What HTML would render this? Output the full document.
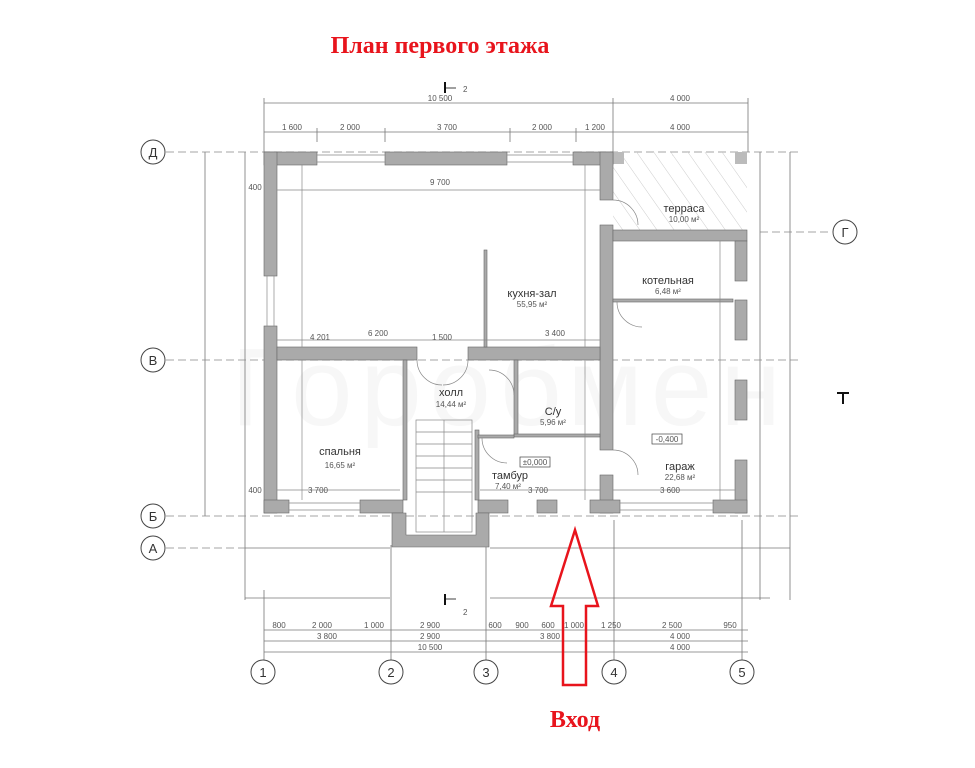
<!DOCTYPE html>
<html><head><meta charset="utf-8"><style>
html,body{margin:0;padding:0;background:#fff;}
svg{display:block}
.d{font-family:"Liberation Sans",sans-serif;font-size:8px;fill:#555}
.r{font-family:"Liberation Sans",sans-serif;font-size:11px;fill:#333}
.s{font-family:"Liberation Sans",sans-serif;font-size:8px;fill:#555}
</style></head><body>
<svg width="975" height="768" viewBox="0 0 975 768" xmlns="http://www.w3.org/2000/svg">
<defs><pattern id="h" width="14" height="14" patternUnits="userSpaceOnUse" patternTransform="rotate(-35)"><line x1="0" y1="0" x2="0" y2="14" stroke="#ccc" stroke-width="1"/></pattern></defs>
<text x="440" y="53" text-anchor="middle" font-family="Liberation Serif,serif" font-weight="bold" font-size="24" fill="#e8141c">План первого этажа</text>
<text x="575" y="727" text-anchor="middle" font-family="Liberation Serif,serif" font-weight="bold" font-size="24" fill="#e8141c">Вход</text>

<text x="510" y="425" text-anchor="middle" font-family="Liberation Sans,sans-serif" font-size="110" fill="#f7f7f7" letter-spacing="8">Горобмен</text>

<g stroke="#777" stroke-width="0.8" fill="none">
<line x1="264" y1="103" x2="748" y2="103"/><line x1="264" y1="132" x2="748" y2="132"/>
<line x1="264" y1="98" x2="264" y2="152"/><line x1="613" y1="98" x2="613" y2="152"/><line x1="748" y1="98" x2="748" y2="152"/>
<line x1="317" y1="128" x2="317" y2="142"/><line x1="385" y1="128" x2="385" y2="142"/><line x1="510" y1="128" x2="510" y2="142"/><line x1="576" y1="128" x2="576" y2="142"/>
<line x1="264" y1="630" x2="748" y2="630"/><line x1="264" y1="641" x2="748" y2="641"/><line x1="264" y1="652" x2="748" y2="652"/>
<line x1="205" y1="152" x2="205" y2="516"/><line x1="245" y1="152" x2="245" y2="600"/>
<line x1="760" y1="152" x2="760" y2="600"/><line x1="790" y1="152" x2="790" y2="600"/>
<line x1="264" y1="590" x2="264" y2="660"/><line x1="391" y1="545" x2="391" y2="660"/><line x1="486" y1="545" x2="486" y2="660"/><line x1="614" y1="520" x2="614" y2="660"/><line x1="742" y1="520" x2="742" y2="660"/>
<line x1="245" y1="598" x2="390" y2="598"/><line x1="490" y1="598" x2="770" y2="598"/>
<line x1="245" y1="548" x2="390" y2="548"/><line x1="490" y1="548" x2="790" y2="548"/>
</g>
<g stroke="#888" stroke-width="0.8" stroke-dasharray="8,4" fill="none">
<line x1="166" y1="152" x2="800" y2="152"/><line x1="166" y1="360" x2="800" y2="360"/><line x1="166" y1="516" x2="800" y2="516"/><line x1="166" y1="548" x2="245" y2="548"/><line x1="760" y1="232" x2="832" y2="232"/>
</g>
<g class="d" text-anchor="middle">
<text x="440" y="101">10 500</text><text x="680" y="101">4 000</text>
<text x="292" y="130">1 600</text><text x="350" y="130">2 000</text><text x="447" y="130">3 700</text><text x="542" y="130">2 000</text><text x="595" y="130">1 200</text><text x="680" y="130">4 000</text>
<text x="279" y="628">800</text><text x="322" y="628">2 000</text><text x="374" y="628">1 000</text><text x="430" y="628">2 900</text><text x="495" y="628">600</text><text x="522" y="628">900</text><text x="548" y="628">600</text><text x="574" y="628">1 000</text><text x="611" y="628">1 250</text><text x="672" y="628">2 500</text><text x="730" y="628">950</text>
<text x="327" y="639">3 800</text><text x="430" y="639">2 900</text><text x="550" y="639">3 800</text><text x="680" y="639">4 000</text>
<text x="430" y="650">10 500</text><text x="680" y="650">4 000</text>
</g>
<g stroke="#444" fill="#fff" stroke-width="1">
<circle cx="153" cy="152" r="12"/><circle cx="153" cy="360" r="12"/><circle cx="153" cy="516" r="12"/><circle cx="153" cy="548" r="12"/><circle cx="845" cy="232" r="12"/>
<circle cx="263" cy="672" r="12"/><circle cx="391" cy="672" r="12"/><circle cx="486" cy="672" r="12"/><circle cx="614" cy="672" r="12"/><circle cx="742" cy="672" r="12"/>
</g>
<g font-family="Liberation Sans,sans-serif" font-size="13" fill="#333" text-anchor="middle">
<text x="153" y="157">Д</text><text x="153" y="365">В</text><text x="153" y="521">Б</text><text x="153" y="553">А</text><text x="845" y="237">Г</text>
<text x="263" y="677">1</text><text x="391" y="677">2</text><text x="486" y="677">3</text><text x="614" y="677">4</text><text x="742" y="677">5</text>
</g>

<rect x="613" y="152" width="134" height="80" fill="url(#h)"/>
<rect x="612" y="152" width="12" height="12" fill="#bbb"/><rect x="735" y="152" width="12" height="12" fill="#bbb"/>

<g fill="#aaa" stroke="#666" stroke-width="0.6">
<rect x="264" y="152" width="53" height="13"/><rect x="385" y="152" width="122" height="13"/><rect x="573" y="152" width="40" height="13"/>
<rect x="264" y="152" width="13" height="124"/><rect x="264" y="326" width="13" height="187"/>
<rect x="600" y="152" width="13" height="48"/><rect x="600" y="225" width="13" height="225"/><rect x="600" y="475" width="13" height="38"/>
<rect x="277" y="347" width="140" height="13"/><rect x="468" y="347" width="132" height="13"/>
<rect x="613" y="230" width="134" height="11"/>
<rect x="735" y="241" width="12" height="40"/><rect x="735" y="300" width="12" height="40"/><rect x="735" y="380" width="12" height="40"/><rect x="735" y="460" width="12" height="53"/>
<rect x="264" y="500" width="25" height="13"/><rect x="360" y="500" width="43" height="13"/><rect x="478" y="500" width="30" height="13"/><rect x="537" y="500" width="20" height="13"/><rect x="590" y="500" width="30" height="13"/><rect x="713" y="500" width="34" height="13"/>
<path d="M392 513 H406 V535 H476 V513 H489 V547 H392 Z"/>
<rect x="403" y="360" width="4" height="140"/><rect x="475" y="430" width="4" height="70"/>
<rect x="514" y="360" width="4" height="76"/><rect x="514" y="434" width="86" height="3"/><rect x="478" y="435" width="36" height="3"/>
<rect x="613" y="299" width="120" height="3"/><rect x="484" y="250" width="3" height="97"/>
</g>
<g stroke="#888" stroke-width="0.7" fill="none">
<line x1="317" y1="155" x2="385" y2="155"/><line x1="317" y1="162" x2="385" y2="162"/>
<line x1="507" y1="155" x2="573" y2="155"/><line x1="507" y1="162" x2="573" y2="162"/>
<line x1="267" y1="276" x2="267" y2="326"/><line x1="274" y1="276" x2="274" y2="326"/>
<line x1="289" y1="503" x2="360" y2="503"/><line x1="289" y1="510" x2="360" y2="510"/>
<line x1="620" y1="503" x2="713" y2="503"/><line x1="620" y1="510" x2="713" y2="510"/>
<line x1="277" y1="190" x2="600" y2="190"/><line x1="277" y1="340" x2="600" y2="340"/><line x1="277" y1="490" x2="400" y2="490"/><line x1="480" y1="490" x2="600" y2="490"/><line x1="613" y1="490" x2="735" y2="490"/>
<line x1="302" y1="165" x2="302" y2="347"/><line x1="585" y1="165" x2="585" y2="347"/><line x1="302" y1="360" x2="302" y2="500"/><line x1="585" y1="360" x2="585" y2="500"/><line x1="720" y1="241" x2="720" y2="500"/>
<path d="M613 200 A25 25 0 0 1 638 225"/><path d="M613 450 A25 25 0 0 1 638 475"/><path d="M617 302 A25 25 0 0 0 642 327"/>
<path d="M417 360 A25 25 0 0 0 442 385"/><path d="M468 360 A25 25 0 0 1 443 385"/><path d="M514 395 A25 25 0 0 0 489 370"/><path d="M482 438 A25 25 0 0 0 507 463"/>
<rect x="416" y="420" width="56" height="112"/><line x1="444" y1="420" x2="444" y2="532"/>
<line x1="416" y1="432" x2="472" y2="432"/><line x1="416" y1="444" x2="472" y2="444"/><line x1="416" y1="456" x2="472" y2="456"/><line x1="416" y1="468" x2="472" y2="468"/><line x1="416" y1="480" x2="472" y2="480"/><line x1="416" y1="492" x2="472" y2="492"/>
</g>
<g text-anchor="middle">
<text class="r" x="532" y="297">кухня-зал</text><text class="s" x="532" y="307">55,95 м²</text>
<text class="r" x="668" y="284">котельная</text><text class="s" x="668" y="294">6,48 м²</text>
<text class="r" x="684" y="212">терраса</text><text class="s" x="684" y="222">10,00 м²</text>
<text class="r" x="340" y="455">спальня</text><text class="s" x="340" y="468">16,65 м²</text>
<text class="r" x="451" y="396">холл</text><text class="s" x="451" y="407">14,44 м²</text>
<text class="r" x="553" y="415">С/у</text><text class="s" x="553" y="425">5,96 м²</text>
<text class="r" x="510" y="479">тамбур</text><text class="s" x="508" y="489">7,40 м²</text>
<text class="r" x="680" y="470">гараж</text><text class="s" x="680" y="480">22,68 м²</text>
</g>
<rect x="520" y="457" width="30" height="10" fill="none" stroke="#444" stroke-width="0.7"/><text class="s" x="535" y="465" text-anchor="middle">±0,000</text>
<rect x="652" y="434" width="30" height="10" fill="none" stroke="#444" stroke-width="0.7"/><text class="s" x="667" y="442" text-anchor="middle">-0,400</text>
<g class="d" text-anchor="middle">
<text x="440" y="185">9 700</text><text x="378" y="336">6 200</text><text x="555" y="336">3 400</text><text x="320" y="340">4 201</text><text x="442" y="340">1 500</text>
<text x="318" y="493">3 700</text><text x="538" y="493">3 700</text><text x="670" y="493">3 600</text><text x="255" y="190">400</text><text x="255" y="493">400</text>
</g>
<g stroke="#111" stroke-width="2"><line x1="445" y1="82" x2="445" y2="93"/><line x1="445" y1="594" x2="445" y2="605"/><line x1="837" y1="393" x2="849" y2="393"/><line x1="843" y1="393" x2="843" y2="404"/></g>
<g stroke="#111" stroke-width="0.8"><line x1="445" y1="88" x2="456" y2="88"/><line x1="445" y1="599" x2="456" y2="599"/></g>
<text class="d" x="463" y="92">2</text><text class="d" x="463" y="615">2</text>
<path d="M575 530 L598 606 L586 606 L586 685 L563 685 L563 606 L551 606 Z" fill="none" stroke="#e8141c" stroke-width="2.5"/>
</svg>
</body></html>
